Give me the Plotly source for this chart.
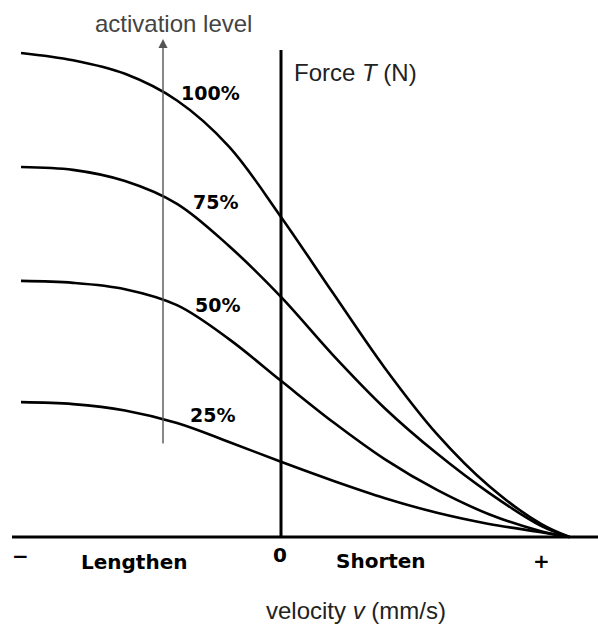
import plotly.graph_objects as go

# velocity (normalised: -1 = "−" end, +1 = "+" end), 0 = isometric
velocity = [-1.0, -0.8, -0.6, -0.4, -0.2, 0.0, 0.2, 0.4, 0.6, 0.8, 1.0, 1.11]
# force (normalised to 100% plateau)
force_100 = [0.998, 0.983, 0.955, 0.900, 0.805, 0.660, 0.503, 0.348, 0.212, 0.105, 0.027, 0.0]
force_75 = [0.763, 0.757, 0.734, 0.687, 0.600, 0.495, 0.375, 0.265, 0.172, 0.091, 0.023, 0.0]
force_50 = [0.528, 0.524, 0.511, 0.478, 0.408, 0.322, 0.237, 0.160, 0.097, 0.047, 0.012, 0.0]
force_25 = [0.278, 0.274, 0.261, 0.235, 0.196, 0.155, 0.116, 0.080, 0.050, 0.027, 0.010, 0.0]
series_labels = ["100%", "75%", "50%", "25%"]
series_values = [force_100, force_75, force_50, force_25]
axis_labels = ["−", "Lengthen", "0", "Shorten", "+"]

W, H = 598, 624
X0, XS = 281, 260   # x_px = X0 + XS * v
Y0, YS = 537, 485   # y_px = Y0 - YS * F


def vx(px):
    return (px - X0) / XS


def fy(py):
    return (Y0 - py) / YS


fig = go.Figure()
for name, f in zip(series_labels, series_values):
    fig.add_trace(go.Scatter(x=velocity, y=f, mode="lines",
                             line=dict(color="black", width=2.6, shape="spline", smoothing=1.0),
                             name=name, showlegend=False, hoverinfo="skip"))

shapes = [
    dict(type="line", x0=vx(12), x1=vx(W), y0=0, y1=0,
         line=dict(color="black", width=3)),
    dict(type="line", x0=0, x1=0, y0=0, y1=fy(50),
         line=dict(color="black", width=3)),
]

ann = []
pct_pos = [(210, 93), (215, 202), (217, 305), (212, 415)]
for lab, (px, py) in zip(series_labels, pct_pos):
    ann.append(dict(x=vx(px), y=fy(py), text="<b>" + lab + "</b>", showarrow=False,
                    xanchor="center", yanchor="middle",
                    font=dict(family="DejaVu Sans", size=19, color="black")))

# activation arrow
ann.append(dict(x=vx(163), y=fy(39), ax=vx(163), ay=fy(445),
                xref="x", yref="y", axref="x", ayref="y",
                text="", showarrow=True, arrowhead=2, arrowsize=1.3,
                arrowwidth=1.4, arrowcolor="#555555"))
ann.append(dict(x=vx(173), y=fy(23), text="activation level",
                showarrow=False, xanchor="center", yanchor="middle",
                font=dict(family="Liberation Sans", size=24, color="#444444")))
ann.append(dict(x=vx(292), y=fy(72), text="Force <i>T</i> (N)",
                showarrow=False, xanchor="left", yanchor="middle",
                font=dict(family="Liberation Sans", size=24, color="#222222")))
ann.append(dict(x=vx(356), y=fy(610), text="velocity <i>v</i> (mm/s)",
                showarrow=False, xanchor="center", yanchor="middle",
                font=dict(family="Liberation Sans", size=24, color="#222222")))

lab_pos = [(20, 556), (134, 562), (280, 555), (381, 561), (541, 561)]
for txt, (px, py) in zip(axis_labels, lab_pos):
    ann.append(dict(x=vx(px), y=fy(py), text="<b>" + txt + "</b>",
                    showarrow=False, xanchor="center", yanchor="middle",
                    font=dict(family="DejaVu Sans", size=20, color="black")))

fig.update_layout(
    width=W, height=H, autosize=False,
    margin=dict(l=0, r=0, t=0, b=0),
    paper_bgcolor="white", plot_bgcolor="white",
    xaxis=dict(range=[vx(0), vx(W)], visible=False, fixedrange=True),
    yaxis=dict(range=[fy(H), fy(0)], visible=False, fixedrange=True),
    shapes=shapes, annotations=ann,
)
fig.write_html("out.html", config={"displayModeBar": False, "staticPlot": True},
               post_script="document.body.style.margin='0';document.body.style.overflow='hidden';")
